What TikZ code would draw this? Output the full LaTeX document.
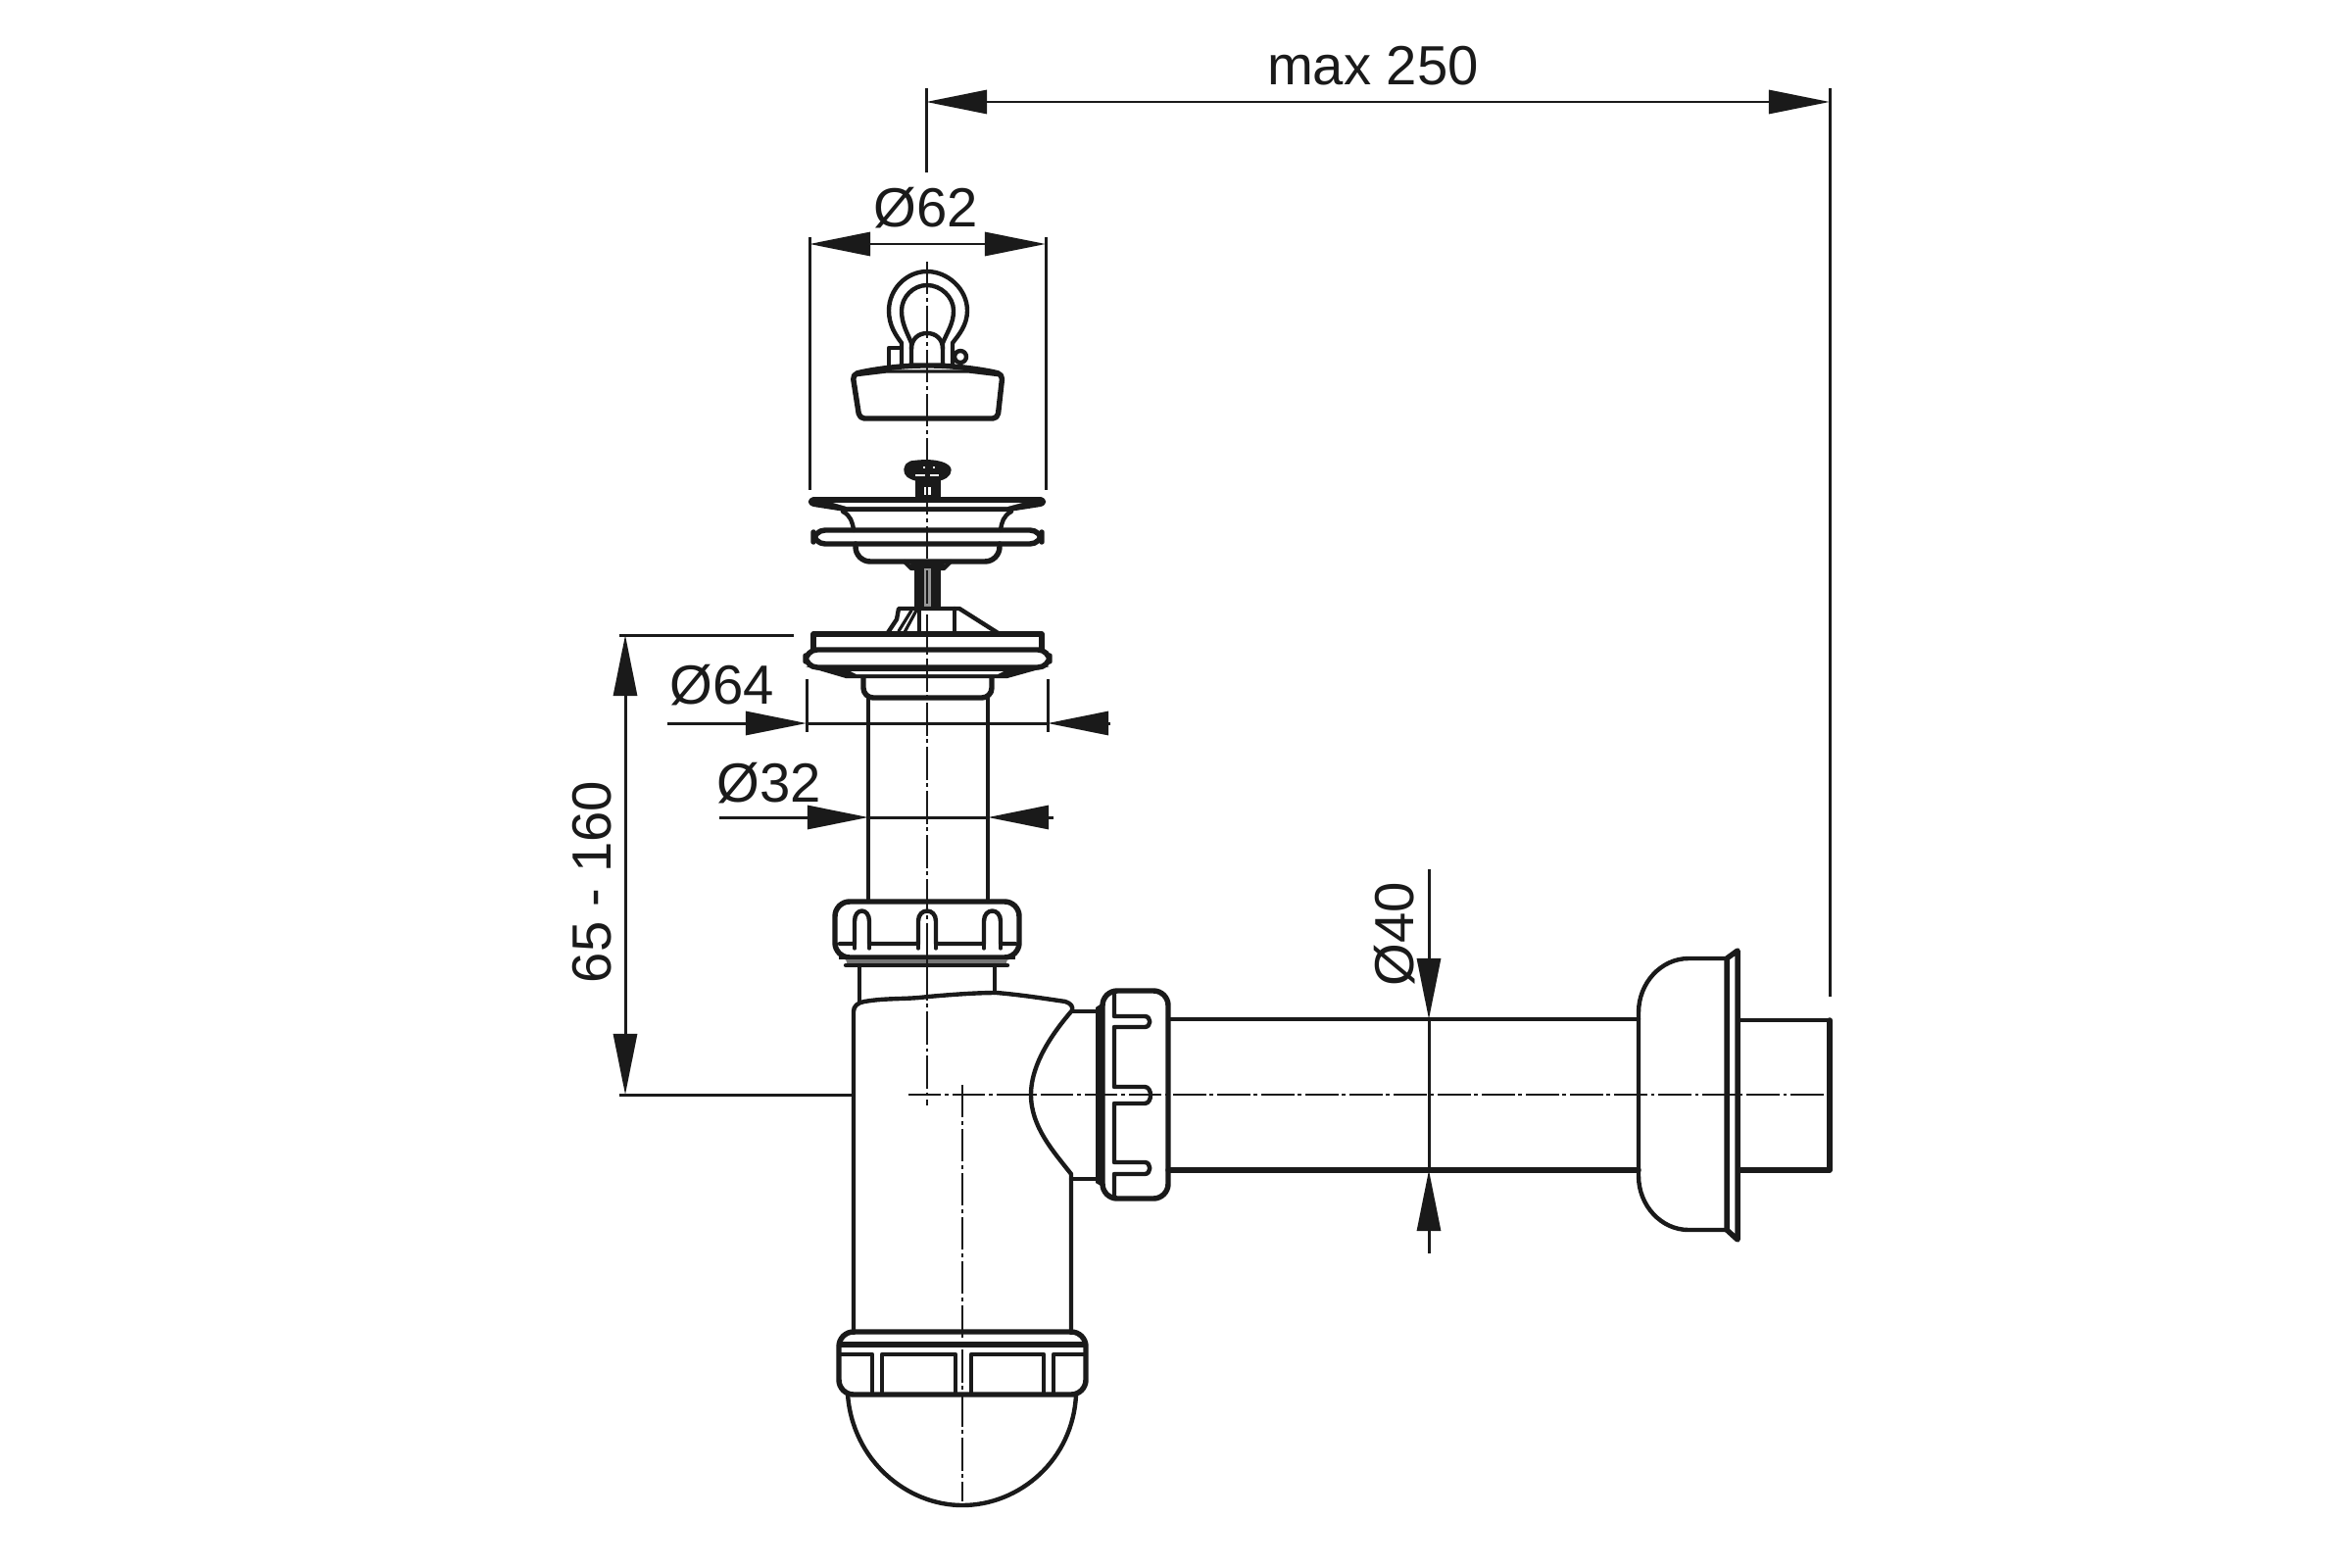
\documentclass[tikz,border=0pt]{standalone}
\usepackage{fontspec}
\setmainfont{Liberation Sans}
\usetikzlibrary{arrows.meta}
\definecolor{ink}{HTML}{1A1A1A}
\tikzset{
  part/.style={draw=ink,line width=1.25pt,line cap=round,line join=round},
  boldpart/.style={draw=ink,line width=1.55pt,line cap=round,line join=round},
  thinpart/.style={draw=ink,line width=0.9pt,line cap=round,line join=round},
  dimline/.style={draw=ink,line width=0.85pt},
  dimtip/.style={-{Triangle[length=0.62cm,width=0.24cm]},draw=ink,fill=ink,line width=0.85pt},
  dimboth/.style={{Triangle[length=0.62cm,width=0.24cm]}-{Triangle[length=0.62cm,width=0.24cm]},draw=ink,fill=ink,line width=0.85pt},
  centre/.style={draw=ink,line width=0.7pt,dash pattern=on 9.5pt off 1.1pt on 1.1pt off 1.1pt},
  label/.style={font=\fontsize{16}{18}\selectfont,text=ink,inner sep=0pt},
}
\begin{document}
\begin{tikzpicture}[x=0.01cm,y=-0.01cm]
\useasboundingbox (0,0) rectangle (2400,1600);
\fill[white] (0,0) rectangle (2400,1600);

% ---------- plug with shackle
\draw[part] (920,373) -- (920,350) .. controls (914,342) and (907,332) .. (907,317)
  .. controls (907,295) and (925,277) .. (946,277) .. controls (967,277) and (987,295) .. (987,317)
  .. controls (987,332) and (978,342) .. (972,350) -- (972,373);
\draw[part] (930,373) -- (930,350) .. controls (925,338) and (920,330) .. (920,317)
  .. controls (920,303) and (932,291) .. (946,291) .. controls (960,291) and (973,303) .. (973,317)
  .. controls (973,330) and (967,338) .. (962,350) -- (962,373);
\draw[part] (930,356) .. controls (930,346) and (937,340) .. (946,340) .. controls (955,340) and (962,346) .. (962,356);
\draw[part] (907,373) -- (907,355) -- (918,355);
\draw[part] (980,364) circle[radius=6];
\draw[boldpart,rounded corners=0.5mm] (870,382) .. controls (890,377) and (920,373) .. (946,373)
  .. controls (972,373) and (1003,377) .. (1023,382) -- (1018,427) -- (877,427) -- cycle;
\draw[thinpart] (872,383) -- (905,379) -- (988,379) -- (1021,383);

% ---------- strainer
\draw[boldpart,fill=ink] (930,473) .. controls (950,470) and (965,473) .. (968,479)
  .. controls (968,485) and (962,487) .. (958,488) -- (935,488) .. controls (928,486) and (925,484) .. (925,479) .. controls (925,476) and (927,474) .. (930,473) -- cycle;
\fill[white] (934,484) rectangle (944,486);
\fill[white] (949,484) rectangle (958,486);
\fill[white] (942,476) rectangle (944,478);
\fill[white] (952,476) rectangle (954,478);
\fill[ink] (934,488) rectangle (960,509);
\fill[white] (943,497) rectangle (950,505);
\fill[ink] (830,507) -- (1062,507) .. controls (1069,509) and (1069,515) .. (1062,517)
  -- (1030,522) -- (862,522) -- (830,517) .. controls (823,515) and (823,509) .. (830,507) -- cycle;
\fill[white] (850,513) -- (1043,513) -- (1028,517) -- (864,517) -- cycle;
\draw[part] (860,522) .. controls (868,526) and (870,533) .. (871,541);
\draw[part] (1032,522) .. controls (1024,526) and (1022,533) .. (1021,541);
\draw[boldpart,rounded corners=1.2mm] (830,541) rectangle (1063,555);
\draw[boldpart,rounded corners=1.5mm] (873,555) -- (873,573) -- (1020,573) -- (1020,555);
\draw[part] (923,573) -- (930,580) -- (963,580) -- (970,573);
\draw[thinpart] (930,577) -- (963,577);
\fill[ink] (933,580) rectangle (943,621);
\fill[ink] (950,580) rectangle (960,621);
\fill[ink!45] (943,580) rectangle (950,621);

% ---------- cone
\draw[part] (905,647) -- (915,632) -- (917,621) -- (979,621) -- (1020,647);
\draw[thinpart] (935,623) -- (922,647);
\draw[thinpart] (930,623) -- (917,644);
\draw[part] (938,621) -- (938,647);
\draw[part] (974,621) -- (974,647);

% ---------- basin flange
\draw[boldpart] (830,663) -- (830,647) -- (1063,647) -- (1063,663);
\draw[boldpart,rounded corners=1.2mm] (822,663) rectangle (1071,681);
\fill[ink] (822,680) -- (1071,680) -- (1028,692) -- (863,692) -- cycle;
\fill[white] (868,685) -- (1024,685) -- (1018,688) -- (874,688) -- cycle;
\draw[boldpart,rounded corners=1mm] (881,692) -- (881,712) -- (1012,712) -- (1012,692);

% ---------- vertical tube
\draw[part] (886,712) -- (886,920);
\draw[part] (1008,712) -- (1008,920);

% ---------- upper nut
\draw[boldpart,rounded corners=1.5mm] (852,920) rectangle (1040,977);
\draw[part] (857,963) -- (872,963) -- (872,940) .. controls (872,926) and (887,926) .. (887,940) -- (887,963)
  -- (937,963) -- (937,940) .. controls (937,926) and (955,926) .. (955,940) -- (955,963)
  -- (1004,963) -- (1004,940) .. controls (1004,926) and (1021,926) .. (1021,940) -- (1021,963) -- (1036,963);
\draw[thinpart] (872,963) -- (872,968);
\draw[thinpart] (887,963) -- (887,968);
\draw[thinpart] (937,963) -- (937,968);
\draw[thinpart] (955,963) -- (955,968);
\draw[thinpart] (1004,963) -- (1004,968);
\draw[thinpart] (1021,963) -- (1021,968);
\fill[ink] (856,975) rectangle (1036,979);
\fill[ink!60] (863,979) -- (1028,979) -- (1026,985) -- (865,985) -- cycle;
\draw[part] (863,985) -- (1028,985);
\draw[part] (877,985) -- (877,1022);
\draw[part] (1015,985) -- (1015,1013);

% ---------- trap body
\draw[part] (871,1360) -- (871,1032) .. controls (871,1027) and (875,1023) .. (882,1022)
  .. controls (905,1018) and (925,1020) .. (947,1017) .. controls (970,1015) and (995,1013) .. (1017,1013)
  .. controls (1040,1015) and (1060,1018) .. (1087,1022) .. controls (1093,1024) and (1095,1027) .. (1094,1031)
  .. controls (1075,1053) and (1052,1085) .. (1052,1117) .. controls (1052,1150) and (1075,1175) .. (1093,1198)
  -- (1093,1360);
\draw[part] (1094,1032) -- (1118,1032);
\draw[part] (1093,1203) -- (1118,1203);
\fill[ink] (1118,1028) -- (1127,1022) -- (1127,1212) -- (1118,1207) -- cycle;

% ---------- side nut
\draw[boldpart,rounded corners=1.5mm] (1125,1011) rectangle (1192,1223);
\draw[part] (1137,1011) -- (1137,1037) -- (1168,1037) .. controls (1175,1037) and (1175,1048) .. (1168,1048) -- (1137,1048)
  -- (1137,1109) -- (1168,1109) .. controls (1176,1109) and (1176,1126) .. (1168,1126) -- (1137,1126)
  -- (1137,1186) -- (1168,1186) .. controls (1175,1186) and (1175,1198) .. (1168,1198) -- (1137,1198) -- (1137,1223);

% ---------- horizontal pipe
\draw[part] (1192,1040) -- (1672,1040);
\draw[boldpart] (1192,1194) -- (1672,1194);

% ---------- wall rosette and pipe end
\draw[part] (1760,978) -- (1723,978) .. controls (1695,978) and (1672,1003) .. (1672,1033) -- (1672,1200)
  .. controls (1672,1230) and (1695,1255) .. (1723,1255) -- (1760,1255);
\draw[boldpart] (1762,978) -- (1762,1255) -- (1773,1265) -- (1773,970) -- cycle;
\draw[part] (1775,1041) -- (1867,1041);
\draw[boldpart] (1775,1194) -- (1867,1194) -- (1867,1041);

% ---------- bottom nut and cup
\draw[boldpart,rounded corners=1.5mm] (856,1359) rectangle (1108,1423);
\draw[boldpart] (858,1372) -- (1106,1372);
\draw[part] (858,1382) -- (890,1382) -- (890,1421);
\draw[part] (900,1421) -- (900,1382) -- (975,1382) -- (975,1421);
\draw[part] (991,1421) -- (991,1382) -- (1065,1382) -- (1065,1421);
\draw[part] (1075,1421) -- (1075,1382) -- (1106,1382);
\draw[part] (865,1423) .. controls (870,1490) and (925,1536) .. (982,1536)
  .. controls (1040,1536) and (1095,1490) .. (1098,1423);

% ---------- centre lines
\draw[centre] (946,267) -- (946,1128);
\draw[centre] (982,1107) -- (982,1532);
\draw[centre] (927,1117) -- (1867,1117);
\draw[dimline] (632,1117) -- (871,1117);

% ---------- dimension max 250
\coordinate (maxL) at (945,104);
\coordinate (maxR) at (1867,104);
\draw[dimline] (945,90) -- (945,176);
\draw[dimline] (1867,90) -- (1867,1017);
\draw[dimboth] (maxL) -- (maxR);
\node[label] (tmax) at (1401,67) {max 250};

% ---------- dimension d62
\coordinate (aL) at (826,249);
\coordinate (aR) at (1067,249);
\draw[dimline] (826,242) -- (826,500);
\draw[dimline] (1067,242) -- (1067,500);
\draw[dimboth] (aL) -- (aR);
\node[label] (t62) at (945,212) {Ø62};

% ---------- dimension d64
\coordinate (bL) at (823,738);
\coordinate (bR) at (1069,738);
\draw[dimline] (823,693) -- (823,747);
\draw[dimline] (1069,693) -- (1069,747);
\draw[dimline] (bL) -- (bR);
\draw[dimtip] (681,738) -- (bL);
\draw[dimtip] (1133,738) -- (bR);
\node[label] (t64) at (737,699) {Ø64};

% ---------- dimension d32
\coordinate (cL) at (886,834);
\coordinate (cR) at (1008,834);
\draw[dimline] (cL) -- (cR);
\draw[dimtip] (734,834) -- (cL);
\draw[dimtip] (1075,834) -- (cR);
\node[label] (t32) at (785,799) {Ø32};

% ---------- dimension 65 - 160
\coordinate (dT) at (638,648);
\coordinate (dB) at (638,1117);
\draw[dimline] (632,648) -- (810,648);
\draw[dimboth] (dT) -- (dB);
\node[label,rotate=90] (t65) at (604,900) {65 - 160};

% ---------- dimension d40
\coordinate (eT) at (1458,1040);
\coordinate (eB) at (1458,1194);
\draw[dimline] (eT) -- (eB);
\draw[dimtip] (1458,887) -- (eT);
\draw[dimtip] (1458,1279) -- (eB);
\node[label,rotate=90] (t40) at (1423,953) {Ø40};
\end{tikzpicture}
\end{document}
